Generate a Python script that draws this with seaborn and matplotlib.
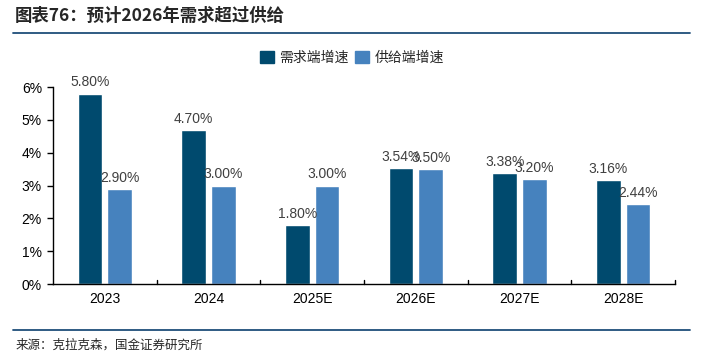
import pandas as pd
import numpy as np
import matplotlib
matplotlib.use('Agg')
import matplotlib.pyplot as plt
import seaborn as sns
from matplotlib.lines import Line2D

years = ['2023', '2024', '2025E', '2026E', '2027E', '2028E']
demand = [5.80, 4.70, 1.80, 3.54, 3.38, 3.16]
supply = [2.90, 3.00, 3.00, 3.50, 3.20, 2.44]
series = ['需求端增速', '供给端增速']
colors = ['#004A6E', '#4682BE']

sns.set_style('white')
plt.rcParams['font.family'] = ['Liberation Sans', 'Noto Sans CJK SC', 'DejaVu Sans']
cjk = ['Noto Sans CJK SC', 'DejaVu Sans']

df = pd.DataFrame({
    'year': years * 2,
    'value': demand + supply,
    'series': [series[0]] * len(years) + [series[1]] * len(years),
})

fig = plt.figure(figsize=(7.01, 3.59), dpi=100)
ax = fig.add_axes([53 / 701, 1 - 284 / 359, (675 - 53) / 701, (284 - 87) / 359])

sns.barplot(data=df, x='year', y='value', hue='series', palette=colors,
            width=0.57, gap=0.17, saturation=1, ax=ax, legend=False)

for cont in ax.containers:
    ax.bar_label(cont, labels=[f'{v:.2f}%' for v in cont.datavalues],
                 padding=3, fontsize=10, color='#404040')

ax.set_ylim(0, 6)
ax.set_yticks(range(0, 7))
ax.set_yticklabels([f'{i}%' for i in range(0, 7)], fontsize=10, color='black')
ax.set_xlim(-0.5, len(years) - 0.5)
ax.set_xticks(range(len(years)))
ax.set_xticklabels(years, fontsize=10, color='black')
ax.tick_params(axis='x', length=0, pad=6)
ax.tick_params(axis='y', direction='out', length=4, width=1, color='black', left=True, pad=4)
for b in np.arange(0.5, len(years), 1.0):
    ax.plot([b, b], [0, 0.12], color='black', lw=1, clip_on=False)
ax.set_xlabel('')
ax.set_ylabel('')
for s in ['top', 'right']:
    ax.spines[s].set_visible(False)
for s in ['left', 'bottom']:
    ax.spines[s].set_color('black')
    ax.spines[s].set_linewidth(1)

handles = [plt.Rectangle((0, 0), 1, 1, color=c) for c in colors]
fig.legend(handles, series, loc='center', bbox_to_anchor=(352 / 701, 1 - 58 / 359),
           ncol=2, frameon=False, handlelength=1.0, handleheight=1.0,
           handletextpad=0.4, columnspacing=0.5, prop={'family': cjk, 'size': 10})

fig.text(15 / 701, 1 - 16 / 359, '图表76：预计2026年需求超过供给', fontsize=12.5,
         fontweight='bold', family=cjk, va='center', ha='left')
fig.add_artist(Line2D([13 / 701, 690 / 701], [1 - 33 / 359] * 2, color='#1F4E79', lw=1.3))
fig.add_artist(Line2D([13 / 701, 690 / 701], [1 - 330 / 359] * 2, color='#1F4E79', lw=1.3))
fig.text(16 / 701, 1 - 345 / 359, '来源：克拉克森，国金证券研究所', fontsize=9,
         family=cjk, va='center', ha='left')

fig.savefig('out.png', dpi=100)
